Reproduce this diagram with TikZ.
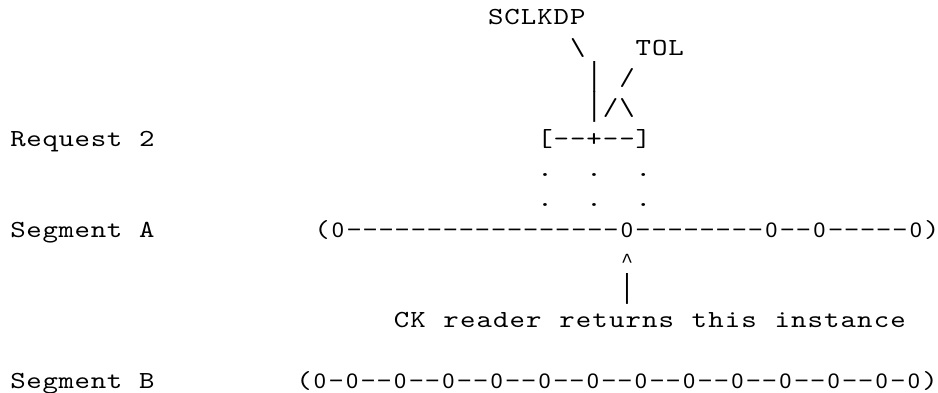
\documentclass[tikz,border=0pt]{standalone}
\usepackage{fontspec}
\usepackage{graphicx}
\newfontfamily\cour[FakeStretch=1.2]{lmmono10-regular.otf}
\newfontfamily\segfont{Liberation Sans}
\newfontfamily\barfont{Liberation Mono}
\newlength\cw
\def\gtbox#1{\makebox[\cw][c]{#1}}
\def\gt#1#2{\setlength\cw{#1}\gti#2\relax}
\def\gti#1{\ifx\relax#1\else\gtbox{#1}\expandafter\gti\fi}
\def\sglp{{\cour\fontsize{24.5pt}{30pt}\selectfont(}}
\def\sgrp{{\cour\fontsize{24.5pt}{30pt}\selectfont)}}
\def\sgd{\raisebox{1.9pt}{\scalebox{2.3}[1]{-}}}
\def\vbar{\raisebox{0.5pt}{\scalebox{1}[1.38]{\barfont\fontsize{24pt}{30pt}\selectfont|}}}
\def\hatc{{\barfont\fontsize{20pt}{30pt}\selectfont\textasciicircum}}
\tikzset{
  tx/.style={anchor=base west, inner sep=0pt, outer sep=0pt,
    font=\cour\fontsize{24.5pt}{30pt}\selectfont},
  segf/.style={font=\segfont\fontsize{21pt}{30pt}\selectfont}
}
\begin{document}
\begin{tikzpicture}[x=1pt,y=1pt]
\fill[white] (0,0) rectangle (938,393);
\useasboundingbox (0,0) rectangle (938,393);
% row 0
\node[tx] (sclkdp) at (487.6,368) {\gt{16.4pt}{SCLKDP}};
% row 1
\node[tx] (bs1) at (569.6,337.7) {\gt{16.4pt}{{\textbackslash}}};
\node[tx] (tol) at (635.2,337.7) {\gt{16.4pt}{TOL}};
% row 2
\node[tx] (bar2) at (586.0,307.4) {\gt{16.4pt}{\vbar}};
\node[tx] (sl2) at (618.8,307.4) {\gt{16.4pt}{/}};
% row 3
\node[tx] (r3) at (586.0,277.1) {\gt{16.4pt}{\vbar/{\textbackslash}}};
% row 4
\node[tx] (req) at (10,246.8) {\gt{16.1pt}{Request~2}};
\node[tx] (bracket) at (536.8,246.8) {\gt{16.4pt}{[--+--]}};
% rows 5, 6
\node[tx] (dots1) at (536.8,216.5) {\gt{16.4pt}{.~~.~~.}};
\node[tx] (dots2) at (536.8,186.2) {\gt{16.4pt}{.~~.~~.}};
% row 7
\node[tx] (sega) at (10,155.9) {\gt{16.1pt}{Segment~A}};
\node[tx,segf] (linea) at (314,155.9) {\gt{16.05pt}{\sglp0\sgd\sgd\sgd\sgd\sgd\sgd\sgd\sgd\sgd\sgd\sgd\sgd\sgd\sgd\sgd\sgd\sgd0\sgd\sgd\sgd\sgd\sgd\sgd\sgd\sgd0\sgd\sgd0\sgd\sgd\sgd\sgd\sgd0\sgrp}};
% row 8
\node[tx] (caret) at (618.8,125.6) {\gt{16.4pt}{\hatc}};
% row 9
\node[tx] (bar9) at (618.8,95.3) {\gt{16.4pt}{\vbar}};
% row 10
\node[tx] (ck) at (393.3,65) {\gt{16.55pt}{CK~reader~returns~this~instance}};
% row 12
\node[tx] (segb) at (10,4.4) {\gt{16.1pt}{Segment~B}};
\node[tx,segf] (lineb) at (296,4.4) {\gt{16.05pt}{\sglp0\sgd0\sgd\sgd0\sgd\sgd0\sgd\sgd0\sgd\sgd0\sgd\sgd0\sgd\sgd0\sgd\sgd0\sgd\sgd0\sgd\sgd0\sgd\sgd0\sgd\sgd0\sgd0\sgrp}};
\end{tikzpicture}
\end{document}
